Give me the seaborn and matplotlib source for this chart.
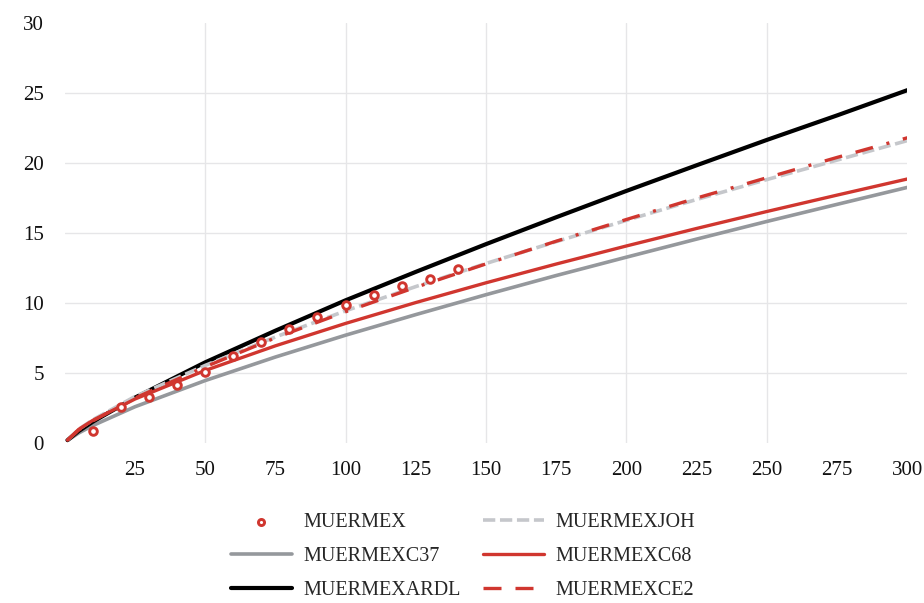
import numpy as np
import pandas as pd
import seaborn as sns
import matplotlib
matplotlib.use("Agg", force=True)
import matplotlib.pyplot as plt

# horizon (x) for the fitted curves
horizon = [1, 5, 10, 25, 50, 75, 100, 125, 150, 175, 200, 225, 250, 275, 300]
ardl = [0.22, 0.87, 1.53, 3.25, 5.77, 8.03, 10.2, 12.23, 14.21, 16.13, 18.01, 19.84, 21.65, 23.4, 25.2]
joh = [0.22, 0.99, 1.67, 3.33, 5.55, 7.58, 9.45, 11.18, 12.83, 14.39, 15.91, 17.4, 18.82, 20.21, 21.6]
ce2 = [0.22, 0.94, 1.59, 3.22, 5.45, 7.52, 9.38, 11.13, 12.8, 14.42, 15.97, 17.5, 18.95, 20.4, 21.8]
c68 = [0.22, 0.99, 1.63, 3.15, 5.19, 6.95, 8.55, 10.04, 11.45, 12.79, 14.08, 15.33, 16.54, 17.71, 18.86]
c37 = [0.2, 0.73, 1.26, 2.6, 4.47, 6.15, 7.71, 9.18, 10.6, 11.97, 13.28, 14.57, 15.83, 17.05, 18.26]

# observed points
obs_x = [10, 20, 30, 40, 50, 60, 70, 80, 90, 100, 110, 120, 130, 140]
obs_y = [0.84, 2.55, 3.3, 4.12, 5.09, 6.24, 7.21, 8.14, 8.98, 9.86, 10.57, 11.21, 11.74, 12.4]

RED = "#d0362f"
GRAY = "#95989c"
LIGHT = "#c5c7cb"

sns.set_theme(style="white")
plt.rcParams["font.family"] = ["Liberation Serif", "DejaVu Serif"]

fig = plt.figure(figsize=(9.24, 6.03), dpi=100)
ax = fig.add_axes([0.07, 0.265, 0.912, 0.697])

curves = pd.DataFrame({"x": horizon, "ardl": ardl, "joh": joh, "ce2": ce2,
                       "c68": c68, "c37": c37})
obs = pd.DataFrame({"x": obs_x, "y": obs_y})

ax.scatter(obs["x"], obs["y"], s=30, facecolors="white", edgecolors=RED,
           linewidths=2.1, zorder=6, label="MUERMEX")
sns.lineplot(data=curves, x="x", y="c37", ax=ax, color=GRAY, lw=2.6, label="MUERMEXC37")
sns.lineplot(data=curves, x="x", y="ardl", ax=ax, color="black", lw=3.0, label="MUERMEXARDL")
sns.lineplot(data=curves, x="x", y="joh", ax=ax, color=LIGHT, lw=2.6, label="MUERMEXJOH",
             ls=(0, (3.4, 1.3)))
sns.lineplot(data=curves, x="x", y="c68", ax=ax, color=RED, lw=2.4, label="MUERMEXC68")
sns.lineplot(data=curves, x="x", y="ce2", ax=ax, color=RED, lw=2.4, label="MUERMEXCE2",
             ls=(0, (5.4, 4.2, 5.4, 4.2, 0.9, 4.2)))

ax.set_xlim(0, 300)
ax.set_ylim(0, 30)
xt = list(range(25, 301, 25))
yt = list(range(0, 31, 5))
ax.set_xticks(xt)
ax.set_yticks(yt)
ax.set_xticklabels([str(v) for v in xt])
ax.set_yticklabels([str(v) for v in yt])
ax.grid(True, color="#e6e6e8", lw=1.0)
for t, v in zip(ax.xaxis.get_major_ticks(), xt):
    t.gridline.set_visible(v % 50 == 0 and v < 300)
for t, v in zip(ax.yaxis.get_major_ticks(), yt):
    t.gridline.set_visible(0 < v < 30)
ax.tick_params(axis="both", length=0, labelsize=15, colors="#111111")
ax.tick_params(axis="y", pad=15)
ax.tick_params(axis="x", pad=13)
ax.set_xlabel("")
ax.set_ylabel("")
sns.despine(ax=ax, left=True, bottom=True)

handles, labels = ax.get_legend_handles_labels()
order = ["MUERMEX", "MUERMEXC37", "MUERMEXARDL", "MUERMEXJOH", "MUERMEXC68", "MUERMEXCE2"]
hmap = dict(zip(labels, handles))
ax.legend([hmap[k] for k in order], order, ncol=2, frameon=False, fontsize=14.5,
          loc="upper center", bbox_to_anchor=(0.473, -0.127), handlelength=3.0,
          handletextpad=0.6, columnspacing=1.1, labelspacing=0.74,
          markerscale=0.8, borderpad=0.3)

fig.savefig("out.png", dpi=100)
